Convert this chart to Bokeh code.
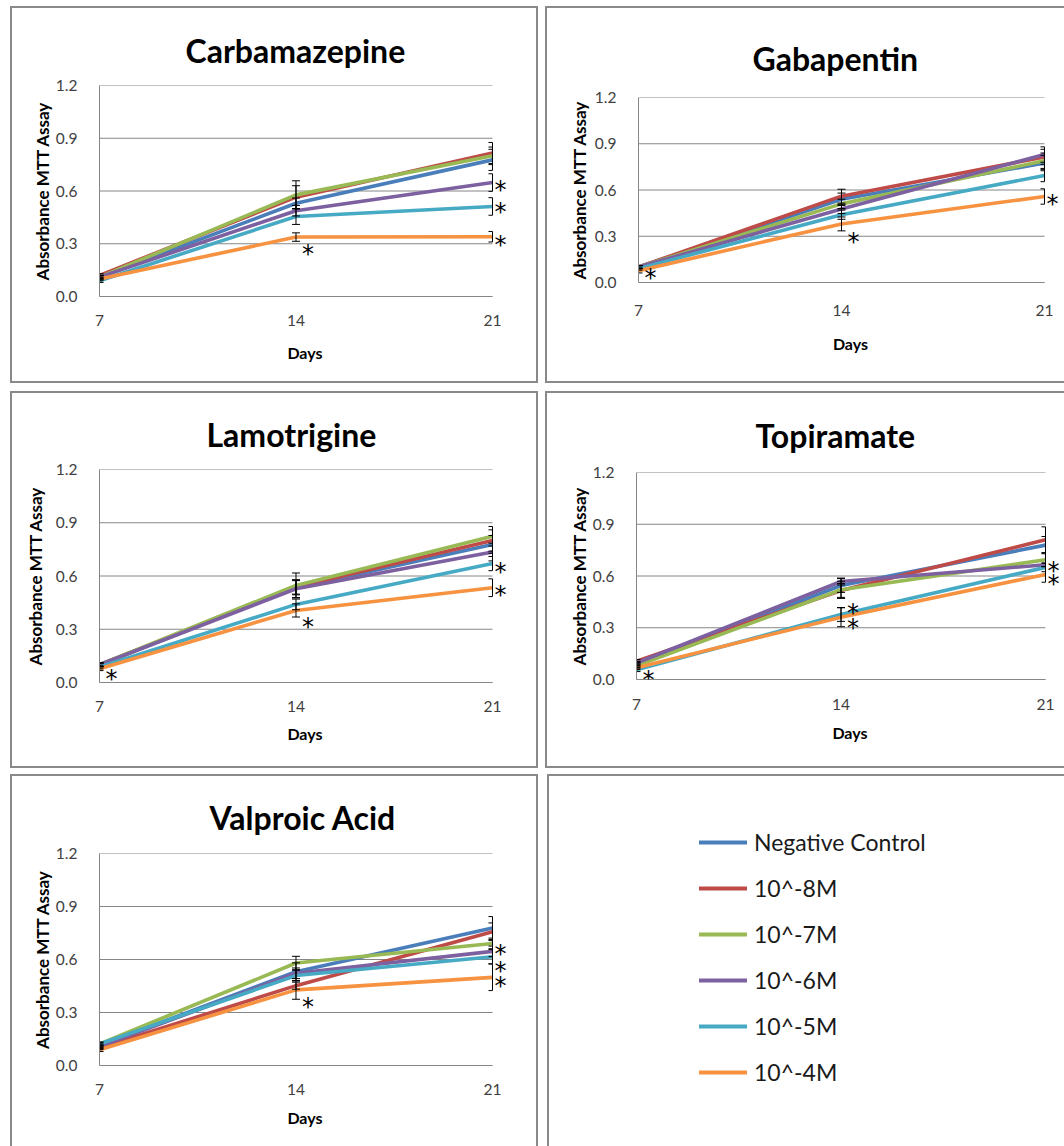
from bokeh.plotting import figure
from bokeh.layouts import row, column
from bokeh.models import (FixedTicker, PrintfTickFormatter, Label, Legend, LegendItem,
                          Range1d, Title)
from bokeh.embed import file_html
from bokeh.resources import INLINE

# ---------------- data ----------------
days = [7, 14, 21]
y_ticks = [0.0, 0.3, 0.6, 0.9, 1.2]
series_names = ["Negative Control", "10^-8M", "10^-7M", "10^-6M", "10^-5M", "10^-4M"]
colors = ["#4A7EBB", "#BE4B48", "#98B954", "#7D60A0", "#46AAC5", "#F69240"]

carb_means = [[0.11, 0.530, 0.777], [0.12, 0.565, 0.816], [0.11, 0.578, 0.800],
              [0.11, 0.488, 0.648], [0.09, 0.455, 0.512], [0.10, 0.338, 0.340]]
carb_errs = [[0.01, 0.030, 0.060], [0.01, 0.065, 0.060], [0.01, 0.080, 0.050],
             [0.01, 0.030, 0.050], [0.01, 0.045, 0.050], [0.01, 0.024, 0.030]]
carb_stars = [(14, 0.263), (21, 0.631), (21, 0.501), (21, 0.314)]

gaba_means = [[0.10, 0.540, 0.775], [0.10, 0.560, 0.814], [0.10, 0.510, 0.790],
              [0.10, 0.477, 0.830], [0.09, 0.440, 0.694], [0.077, 0.380, 0.558]]
gaba_errs = [[0.01, 0.040, 0.050], [0.01, 0.045, 0.050], [0.01, 0.030, 0.050],
             [0.01, 0.030, 0.050], [0.01, 0.030, 0.040], [0.015, 0.045, 0.050]]
gaba_stars = [(7, 0.057), (14, 0.290), (21, 0.538)]

lamo_means = [[0.10, 0.534, 0.778], [0.10, 0.538, 0.800], [0.10, 0.547, 0.824],
              [0.10, 0.528, 0.735], [0.087, 0.440, 0.670], [0.077, 0.406, 0.534]]
lamo_errs = [[0.01, 0.040, 0.050], [0.01, 0.040, 0.060], [0.01, 0.070, 0.055],
             [0.01, 0.050, 0.050], [0.01, 0.030, 0.040], [0.01, 0.037, 0.050]]
lamo_stars = [(7, 0.040), (14, 0.333), (21, 0.643), (21, 0.514)]

topi_means = [[0.09, 0.545, 0.779], [0.106, 0.516, 0.810], [0.08, 0.520, 0.694],
              [0.095, 0.568, 0.665], [0.056, 0.377, 0.650], [0.068, 0.361, 0.609]]
topi_errs = [[0.01, 0.040, 0.050], [0.01, 0.040, 0.075], [0.01, 0.050, 0.040],
             [0.01, 0.020, 0.010], [0.01, 0.040, 0.025], [0.01, 0.055, 0.045]]
topi_stars = [(7, 0.023), (14, 0.410), (14, 0.319), (21, 0.651), (21, 0.574)]

valp_means = [[0.113, 0.531, 0.778], [0.10, 0.452, 0.757], [0.122, 0.580, 0.691],
              [0.107, 0.522, 0.646], [0.122, 0.509, 0.616], [0.089, 0.428, 0.499]]
valp_errs = [[0.01, 0.050, 0.065], [0.01, 0.020, 0.050], [0.01, 0.038, 0.030],
             [0.01, 0.030, 0.030], [0.01, 0.030, 0.040], [0.01, 0.053, 0.075]]
valp_stars = [(14, 0.356), (21, 0.656), (21, 0.556), (21, 0.471)]

# ---------------- styling ----------------
FONT = "Lato"
BORDER_W = 2
BORDER = "2px solid #898989"
GRID = "#868686"
EXTRA = 18  # px of frame to the right of the last day (room for the asterisks)


def panel_styles(sides):
    st = {"box-sizing": "border-box"}
    for s in ["top", "right", "bottom", "left"]:
        st["border-" + s] = BORDER if s in sides else "none"
    return st


def make_panel(title, means, errs, stars, outer, sides, frame, title_left, title_standoff,
               standoffs):
    x0, y0, w, h = outer
    fl, fr, ft, fb = frame          # page px of day 7, day 21, top (1.2) and bottom (0.0)
    xt_so, xl_so, yl_so = standoffs
    cx = x0 + (BORDER_W if "left" in sides else 0)
    cy = y0 + (BORDER_W if "top" in sides else 0)
    ppd = (fr - fl) / (days[-1] - days[0])
    p = figure(width=w, height=h, output_backend="svg", toolbar_location=None,
               x_range=Range1d(days[0], days[-1] + EXTRA / ppd),
               y_range=Range1d(y_ticks[0], y_ticks[-1]),
               min_border_left=round(fl - cx), min_border_right=round(cx + w - fr - EXTRA),
               min_border_top=round(ft - cy), min_border_bottom=round(cy + h - fb),
               frame_align=False)
    p.styles = panel_styles(sides)
    p.title = Title(text=title, align="left", text_font=FONT, text_font_size="32px",
                    text_font_style="bold", text_color="#000000",
                    offset=round(title_left - fl), standoff=title_standoff)
    p.outline_line_color = None
    p.background_fill_color = "white"
    p.border_fill_color = "white"
    p.xgrid.visible = False
    p.ygrid.visible = False

    # horizontal gridlines spanning the day range only
    p.segment(x0=[days[0]] * len(y_ticks), y0=y_ticks, x1=[days[-1]] * len(y_ticks),
              y1=y_ticks, line_color=GRID, line_width=1, level="underlay")

    p.xaxis.ticker = FixedTicker(ticks=days)
    p.yaxis.ticker = FixedTicker(ticks=y_ticks)
    p.yaxis.formatter = PrintfTickFormatter(format="%.1f")
    p.xaxis.bounds = (days[0], days[-1])
    for ax in (p.xaxis[0], p.yaxis[0]):
        ax.axis_line_color = GRID
        ax.major_tick_line_color = None
        ax.minor_tick_line_color = None
        ax.major_label_text_font = FONT
        ax.major_label_text_font_size = "15.5px"
        ax.major_label_text_color = "#404040"
        ax.axis_label_text_font = FONT
        ax.axis_label_text_font_style = "bold"
        ax.axis_label_text_color = "#000000"
    p.xaxis.axis_label = "Days"
    p.yaxis.axis_label = "Absorbance MTT Assay"
    p.xaxis.axis_label_text_font_size = "16px"
    p.yaxis.axis_label_text_font_size = "17px"
    p.yaxis.major_label_standoff = 16
    p.yaxis.axis_label_standoff = yl_so
    p.xaxis.major_label_standoff = xt_so
    p.xaxis.axis_label_standoff = xl_so

    for m, c in zip(means, colors):
        p.line(days, m, line_color=c, line_width=3.6, line_join="round", line_cap="butt")

    cap = 4.0 / ppd
    for m, e in zip(means, errs):
        lo = [a - b for a, b in zip(m, e)]
        hi = [a + b for a, b in zip(m, e)]
        cl = [d - cap for d in days]
        cr = [min(d + cap, days[-1]) for d in days]
        p.segment(x0=days, y0=lo, x1=days, y1=hi, line_color="black", line_width=1)
        p.segment(x0=cl, y0=lo, x1=cr, y1=lo, line_color="black", line_width=1)
        p.segment(x0=cl, y0=hi, x1=cr, y1=hi, line_color="black", line_width=1)

    for d, yv in stars:
        dx = 12 if d < days[-1] else 8
        p.add_layout(Label(x=d, y=yv, x_offset=dx, y_offset=-4, text="*",
                           text_font="DejaVu Sans", text_font_size="24px",
                           text_align="center", text_baseline="middle",
                           text_color="#000000"))
    return p


p1 = make_panel("Carbamazepine", carb_means, carb_errs, carb_stars,
                (10, 6, 528, 377), ["top", "right", "bottom", "left"],
                (99, 491.7, 84.7, 296.3), 185, 31, (12, 14, 0))
p2 = make_panel("Gabapentin", gaba_means, gaba_errs, gaba_stars,
                (545, 6, 519, 377), ["top", "bottom", "left"],
                (638.3, 1044, 97.3, 281.7), 752, 39, (16, 15, 2))
p3 = make_panel("Lamotrigine", lamo_means, lamo_errs, lamo_stars,
                (10, 391, 528, 377), ["top", "right", "bottom", "left"],
                (99, 491.7, 469.3, 682), 206, 32, (12, 9, 7))
p4 = make_panel("Topiramate", topi_means, topi_errs, topi_stars,
                (545, 391, 519, 377), ["top", "bottom", "left"],
                (635.7, 1045, 472, 679), 755, 35, (13, 10, 0))
p5 = make_panel("Valproic Acid", valp_means, valp_errs, valp_stars,
                (10, 774, 528, 372), ["top", "right", "left"],
                (99, 491.7, 852.7, 1065), 209, 33, (12, 10, 0))

# legend panel
p6 = figure(width=517, height=372, output_backend="svg", toolbar_location=None,
            x_range=Range1d(0, 1), y_range=Range1d(0, 1), frame_align=False,
            min_border_left=150, min_border_top=52, min_border_right=5, min_border_bottom=5)
p6.styles = panel_styles(["top", "left"])
p6.axis.visible = False
p6.grid.visible = False
p6.outline_line_color = None
items = []
for name, c in zip(series_names, colors):
    r = p6.line(x=[float("nan")], y=[float("nan")], line_color=c, line_width=4,
                line_cap="round")
    items.append(LegendItem(label=name, renderers=[r]))
legend = Legend(items=items, location="top_left", margin=0, padding=0, spacing=18,
                glyph_width=48, glyph_height=28, label_height=28, label_standoff=7,
                label_text_font=FONT, label_text_font_size="23px",
                label_text_color="#1a1a1a", border_line_color=None,
                background_fill_alpha=0)
p6.add_layout(legend)

layout = column(
    row(p1, p2, spacing=7),
    row(p3, p4, spacing=7, margin=(8, 0, 0, 0)),
    row(p5, p6, spacing=9, margin=(6, 0, 0, 0)),
    spacing=0, margin=(6, 0, 0, 10))

open("out.html", "w").write(file_html(layout, INLINE))
